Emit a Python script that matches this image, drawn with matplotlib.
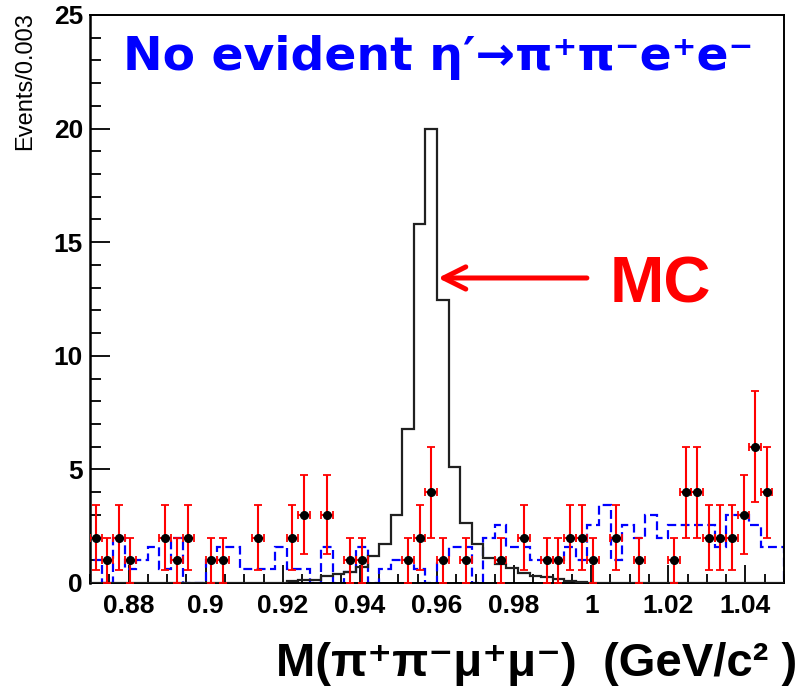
import numpy as np
import matplotlib
matplotlib.use("Agg")
import matplotlib.pyplot as plt
from matplotlib.ticker import MultipleLocator, FuncFormatter

# ========== BINNING: 60 bins of 0.003 GeV/c2 ==========
X_LO, X_HI = 0.87, 1.05
N_BINS = 60

# data counts per bin (bin 0 = [0.870, 0.873))
data_counts = [2, 1, 2, 1, 0, 0, 2, 1, 2, 0,
               1, 1, 0, 0, 2, 0, 0, 2, 3, 0,
               3, 0, 1, 1, 0, 0, 0, 1, 2, 4,
               1, 0, 1, 0, 0, 1, 0, 2, 0, 1,
               1, 2, 2, 1, 0, 2, 0, 1, 0, 0,
               1, 4, 4, 2, 2, 2, 3, 6, 4, 0]

# signal MC (solid black)
mc_signal = [0, 0, 0, 0, 0, 0, 0, 0, 0, 0,
             0, 0, 0, 0, 0, 0, 0, 0.1, 0.12, 0.15,
             0.3, 0.4, 0.5, 0.7, 1.2, 1.7, 3.0, 6.8, 15.8, 20.0,
             12.45, 5.1, 2.65, 1.72, 1.1, 0.84, 0.65, 0.45, 0.32, 0.25,
             0.16, 0.1, 0.05, 0, 0, 0, 0, 0, 0, 0,
             0, 0, 0, 0, 0, 0, 0, 0, 0, 0]

# background MC (blue dashed)
mc_bkg = [1.0, 0, 2.0, 0.6, 1.0, 1.6, 0.6, 2.0, 0, 0,
          1.0, 1.6, 1.6, 0.6, 0.6, 0.6, 1.6, 0.6, 0.6, 0,
          1.6, 0, 0.5, 1.6, 0, 0.6, 1.0, 1.0, 0.6, 0,
          1.0, 1.6, 1.6, 0, 2.0, 2.55, 1.6, 1.6, 1.0, 1.0,
          1.0, 1.6, 1.0, 2.55, 3.45, 1.0, 2.55, 2.0, 3.0, 2.0,
          2.55, 2.55, 2.55, 2.55, 1.6, 3.0, 3.0, 2.55, 1.6, 1.6]

x_major = [0.88, 0.90, 0.92, 0.94, 0.96, 0.98, 1.00, 1.02, 1.04]

edges = np.linspace(X_LO, X_HI, N_BINS + 1)
centers = 0.5 * (edges[:-1] + edges[1:])
bin_w = edges[1] - edges[0]
counts = np.array(data_counts, dtype=float)

fig = plt.figure(figsize=(8.03, 6.87), dpi=100)
ax = fig.add_axes([90 / 803, 1 - 583 / 687, 694 / 803, 568 / 687])

ax.stairs(mc_bkg, edges, color='#0000ff', lw=1.6, linestyle=(0, (4, 2)), zorder=2)
ax.stairs(mc_signal, edges, color='#202020', lw=1.6, zorder=3)

sel = counts > 0
ax.errorbar(centers[sel], counts[sel], yerr=np.sqrt(counts[sel]), xerr=bin_w / 2,
            fmt='o', ms=5.5, mfc='black', mec='black', ecolor='red',
            elinewidth=1.5, capsize=3, capthick=1.3, zorder=4)

ax.set_xlim(X_LO, X_HI)
ax.set_ylim(0, 25)
ax.set_xticks(x_major)
ax.xaxis.set_minor_locator(MultipleLocator(0.005))
ax.yaxis.set_major_locator(MultipleLocator(5))
ax.yaxis.set_minor_locator(MultipleLocator(1))
ax.xaxis.set_major_formatter(FuncFormatter(lambda v, p: f"{v:g}"))

ax.tick_params(axis='both', which='both', direction='in', top=False, right=False, color='black')
ax.tick_params(axis='x', which='major', length=13, width=1.3, pad=8)
ax.tick_params(axis='x', which='minor', length=6.5, width=1.3)
ax.tick_params(axis='y', which='major', length=14.5, width=1.3, pad=5)
ax.tick_params(axis='y', which='minor', length=8, width=1.3)
for lbl in ax.get_xticklabels():
    lbl.set_fontfamily('Liberation Sans')
    lbl.set_fontweight('bold')
    lbl.set_fontsize(19)
for lbl in ax.get_yticklabels():
    lbl.set_fontfamily('Liberation Sans')
    lbl.set_fontweight('bold')
    lbl.set_fontsize(19)
for s in ax.spines.values():
    s.set_linewidth(1.4)
ax.spines['left'].set_linewidth(1.8)

fig.text(25 / 803, 1 - 12 / 687, 'Events/0.003', rotation=90, ha='center', va='top',
         fontsize=17, family='Liberation Sans')

fig.text(123 / 803, 1 - 70 / 687, 'No evident η′→π⁺π⁻e⁺e⁻', color='#0000ff',
         fontsize=34, fontweight='bold', va='baseline', family='DejaVu Sans')

# MC arrow + label
ax.annotate('', xy=(0.5014, 0.537), xytext=(0.716, 0.537), xycoords='axes fraction',
            arrowprops=dict(arrowstyle='->,head_length=1.6,head_width=0.8',
                            color='red', lw=3.6, shrinkA=0, shrinkB=0))
ax.text(0.749, 0.493, 'MC', transform=ax.transAxes, color='red', fontsize=47,
        fontweight='bold', family='Liberation Sans', va='baseline')

fig.text(797 / 803, 1 - 676 / 687, 'M(π⁺π⁻μ⁺μ⁻)  (GeV/c² )', ha='right', va='baseline',
         fontsize=34, fontweight='bold', family=['Liberation Sans', 'DejaVu Sans'])

fig.savefig('out.png', dpi=100)
